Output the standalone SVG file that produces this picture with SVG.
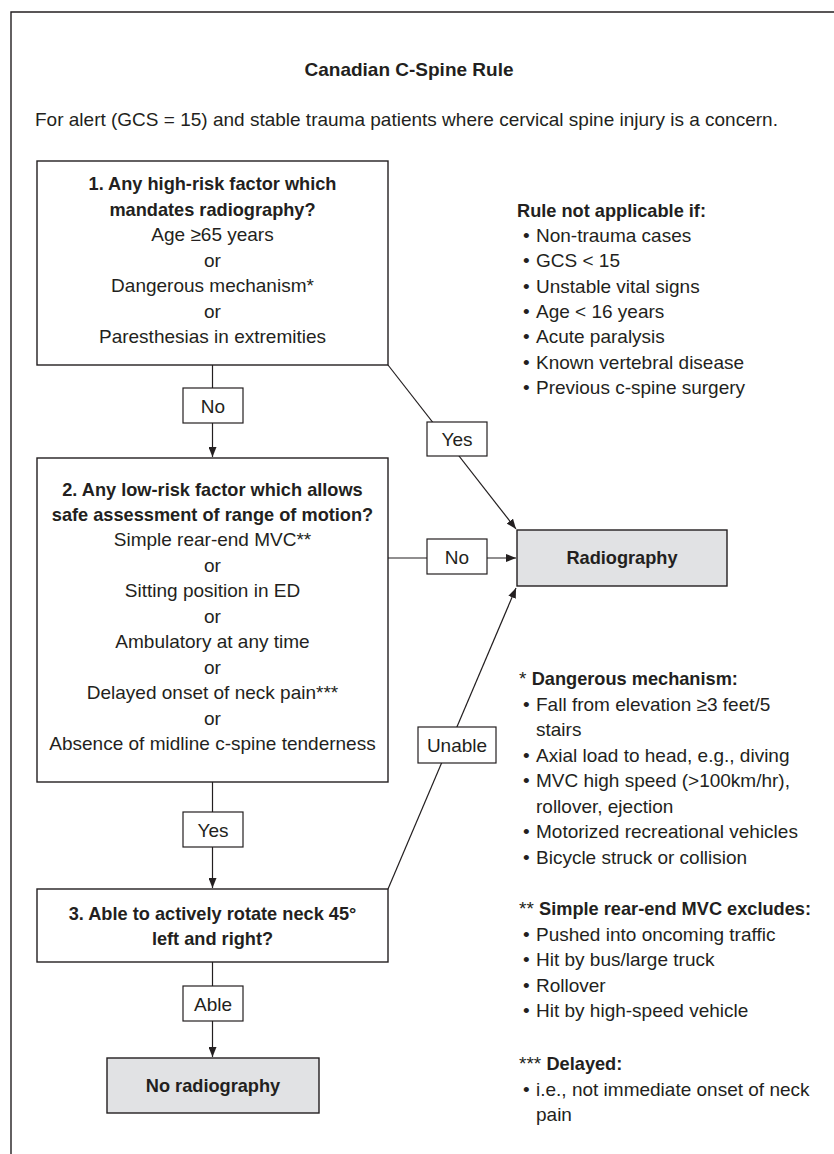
<svg xmlns="http://www.w3.org/2000/svg" width="834" height="1154" viewBox="0 0 834 1154">
<style>
text{font-family:"Liberation Sans",Arial,sans-serif;fill:#231f20;font-size:19px}
.b{font-weight:bold}
.c{text-anchor:middle}
.bb{font-weight:bold;font-size:18.2px}
.box{fill:#fff;stroke:#231f20;stroke-width:1.4}
.term{fill:#e1e2e4;stroke:#231f20;stroke-width:1.4}
.lbl{fill:#fff;stroke:#231f20;stroke-width:1.2}
.ln{fill:none;stroke:#231f20;stroke-width:1.2}
</style>
<defs>
<marker id="ah" viewBox="0 0 10 8" refX="10" refY="4" markerWidth="10" markerHeight="8" markerUnits="userSpaceOnUse" orient="auto">
<path d="M0,0 L10,4 L0,8 Z" fill="#231f20"/>
</marker>
</defs>
<rect width="834" height="1154" fill="#fff"/>
<path d="M11,1154 V12 H834" fill="none" stroke="#231f20" stroke-width="1.4"/>

<text class="b c" x="409" y="76" font-size="17.6">Canadian C-Spine Rule</text>
<text x="35" y="126">For alert (GCS = 15) and stable trauma patients where cervical spine injury is a concern.</text>

<g id="connectors">
<line class="ln" x1="212.5" y1="365" x2="212.5" y2="388"/>
<line class="ln" x1="212.5" y1="423" x2="212.5" y2="457" marker-end="url(#ah)"/>
<line class="ln" x1="388" y1="365" x2="516" y2="529" marker-end="url(#ah)"/>
<line class="ln" x1="388" y1="558" x2="516" y2="558" marker-end="url(#ah)"/>
<line class="ln" x1="212.5" y1="782" x2="212.5" y2="812"/>
<line class="ln" x1="212.5" y1="847" x2="212.5" y2="888" marker-end="url(#ah)"/>
<line class="ln" x1="388" y1="889" x2="516" y2="588" marker-end="url(#ah)"/>
<line class="ln" x1="212.5" y1="962" x2="212.5" y2="986"/>
<line class="ln" x1="212.5" y1="1021" x2="212.5" y2="1057" marker-end="url(#ah)"/>
<g id="label-no1"><rect class="lbl" x="183" y="388" width="60" height="35"/><text class="c" x="213" y="413">No</text></g>
<g id="label-yes1"><rect class="lbl" x="427" y="422" width="60" height="34"/><text class="c" x="457" y="446">Yes</text></g>
<g id="label-no2"><rect class="lbl" x="427" y="539" width="60" height="35"/><text class="c" x="457" y="564">No</text></g>
<g id="label-unable"><rect class="lbl" x="418" y="727" width="78" height="36"/><text class="c" x="457" y="752">Unable</text></g>
<g id="label-yes2"><rect class="lbl" x="183" y="812" width="60" height="35"/><text class="c" x="213" y="837">Yes</text></g>
<g id="label-able"><rect class="lbl" x="183" y="986" width="60" height="35"/><text class="c" x="213" y="1011">Able</text></g>
</g>

<g id="q1">
<rect class="box" x="37" y="161" width="351" height="204"/>
<text class="bb c" x="212.5" y="190">1. Any high-risk factor which</text>
<text class="bb c" x="212.5" y="215.5">mandates radiography?</text>
<text class="c" x="212.5" y="241">Age ≥65 years</text>
<text class="c" x="212.5" y="266.5">or</text>
<text class="c" x="212.5" y="292">Dangerous mechanism*</text>
<text class="c" x="212.5" y="317.5">or</text>
<text class="c" x="212.5" y="343">Paresthesias in extremities</text>
</g>

<g id="q2">
<rect class="box" x="37" y="458" width="351" height="324"/>
<text class="bb c" x="212.5" y="496">2. Any low-risk factor which allows</text>
<text class="bb c" x="212.5" y="521">safe assessment of range of motion?</text>
<text class="c" x="212.5" y="546">Simple rear-end MVC**</text>
<text class="c" x="212.5" y="571.5">or</text>
<text class="c" x="212.5" y="597">Sitting position in ED</text>
<text class="c" x="212.5" y="622.5">or</text>
<text class="c" x="212.5" y="648">Ambulatory at any time</text>
<text class="c" x="212.5" y="673.5">or</text>
<text class="c" x="212.5" y="699">Delayed onset of neck pain***</text>
<text class="c" x="212.5" y="724.5">or</text>
<text class="c" x="212.5" y="750">Absence of midline c-spine tenderness</text>
</g>

<g id="q3">
<rect class="box" x="37" y="889" width="351" height="73"/>
<text class="bb c" x="212.5" y="920">3. Able to actively rotate neck 45°</text>
<text class="bb c" x="212.5" y="945">left and right?</text>
</g>

<g id="radiography">
<rect class="term" x="517" y="530" width="210" height="56"/>
<text class="bb c" x="622" y="564">Radiography</text>
</g>

<g id="no-radiography">
<rect class="term" x="107" y="1058" width="212" height="55"/>
<text class="bb c" x="213" y="1092">No radiography</text>
</g>

<g id="not-applicable">
<text class="bb" x="517" y="217">Rule not applicable if:</text>
<text x="523" y="242">•</text><text x="536" y="242">Non-trauma cases</text>
<text x="523" y="267">•</text><text x="536" y="267">GCS &lt; 15</text>
<text x="523" y="292.5">•</text><text x="536" y="292.5">Unstable vital signs</text>
<text x="523" y="318">•</text><text x="536" y="318">Age &lt; 16 years</text>
<text x="523" y="343">•</text><text x="536" y="343">Acute paralysis</text>
<text x="523" y="368.5">•</text><text x="536" y="368.5">Known vertebral disease</text>
<text x="523" y="394">•</text><text x="536" y="394">Previous c-spine surgery</text>
</g>

<g id="dangerous-mechanism">
<text x="519" y="685">* <tspan class="bb">Dangerous mechanism:</tspan></text>
<text x="523" y="710.5">•</text><text x="536" y="710.5">Fall from elevation ≥3 feet/5</text>
<text x="536" y="736">stairs</text>
<text x="523" y="761.5">•</text><text x="536" y="761.5">Axial load to head, e.g., diving</text>
<text x="523" y="787">•</text><text x="536" y="787">MVC high speed (&gt;100km/hr),</text>
<text x="536" y="812.5">rollover, ejection</text>
<text x="523" y="838">•</text><text x="536" y="838">Motorized recreational vehicles</text>
<text x="523" y="863.5">•</text><text x="536" y="863.5">Bicycle struck or collision</text>
</g>

<g id="simple-rear-end">
<text x="519" y="915">** <tspan class="bb">Simple rear-end MVC excludes:</tspan></text>
<text x="523" y="940.5">•</text><text x="536" y="940.5">Pushed into oncoming traffic</text>
<text x="523" y="966">•</text><text x="536" y="966">Hit by bus/large truck</text>
<text x="523" y="991.5">•</text><text x="536" y="991.5">Rollover</text>
<text x="523" y="1017">•</text><text x="536" y="1017">Hit by high-speed vehicle</text>
</g>

<g id="delayed">
<text x="519" y="1070">*** <tspan class="bb">Delayed:</tspan></text>
<text x="523" y="1095.5">•</text><text x="536" y="1095.5">i.e., not immediate onset of neck</text>
<text x="536" y="1121">pain</text>
</g>
</svg>
